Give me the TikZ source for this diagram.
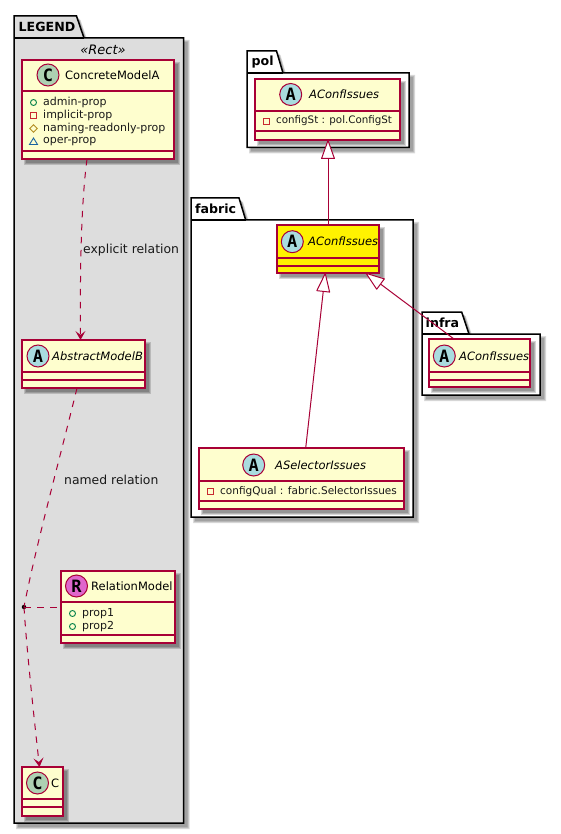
\documentclass[tikz,border=0pt]{standalone}
\usepackage{fontspec}
\setmainfont{DejaVu Sans}
\newfontfamily\spotfont{DejaVu Sans Mono}
\usetikzlibrary{arrows.meta,calc}
\definecolor{crim}{HTML}{A80036}
\definecolor{clsfill}{HTML}{FEFECE}
\definecolor{legfill}{HTML}{DDDDDD}
\definecolor{spotA}{HTML}{A9DCDF}
\definecolor{spotC}{HTML}{ADD1B2}
\definecolor{spotR}{HTML}{DF66CC}
\definecolor{icoPub}{HTML}{038048}
\definecolor{icoPri}{HTML}{C82930}
\definecolor{icoPro}{HTML}{B38D22}
\definecolor{icoPkg}{HTML}{1963A0}
\tikzset{
  kbox/.style={draw=crim,line width=1.25pt,inner sep=0pt,outer sep=0pt,rectangle},
  ksep/.style={draw=crim,line width=1.25pt},
  spot/.style={circle,draw=crim,line width=1pt,inner sep=0pt,minimum size=22pt,font=\spotfont\bfseries\fontsize{17}{17}\selectfont},
  ctitle/.style={inner sep=0pt,anchor=west,font=\fontsize{11.5}{13}\selectfont,text=black},
  ititle/.style={ctitle,font=\fontsize{11.5}{13}\selectfont\itshape},
  member/.style={inner sep=0pt,anchor=west,font=\fontsize{10.5}{12}\selectfont,text=black!90},
  hmember/.style={member,font=\fontsize{11}{12}\selectfont},
  rellabel/.style={inner sep=0pt,anchor=west,font=\fontsize{12.4}{14}\selectfont,text=black!90},
  pkgtitle/.style={inner sep=0pt,anchor=west,font=\bfseries\fontsize{12.6}{14}\selectfont},
  pkgline/.style={draw=black,line width=1.5pt,line join=miter},
  rel/.style={crim,line width=1pt},
  dashrel/.style={rel,dash pattern=on 6.5pt off 6.5pt},
  open vee/.style={-{Stealth[length=9pt,width=10pt,inset=4pt,fill=crim,sep=0pt]}},
  hollow/.style={-{Triangle[open,length=20pt,width=14pt,fill=white,round]}},
}
% #1 name, #2-#5 x1 y1 x2 y2, #6 sep1, #7 sep2, #8 fill
\newcommand{\klass}[8]{%
  \foreach \d in {0,1,2}{%
    \fill[black,opacity=.16] ({#2+2+\d},{#3+2+\d}) rectangle ({#4+6-\d},{#5+6-\d});}
  \node[kbox,fill=#8,minimum width={(#4-#2)*1pt},minimum height={(#5-#3)*1pt}] (#1) at ({(#2+#4)/2},{(#3+#5)/2}) {};
  \draw[ksep] (#2,#6) -- (#4,#6);
  \draw[ksep] (#2,#7) -- (#4,#7);
}
% #1 xl, #2 ytop, #3 tab-right top, #4 tab-right bottom, #5 ytabbottom, #6 xr, #7 ybottom, #8 fill
\newcommand{\packg}[8]{%
  \foreach \d in {0,1,2}{%
    \fill[black,opacity=.14] ({#1+2+\d},{#2+2+\d}) -- ({#3+2+\d},{#2+2+\d}) -- ({#4+2+\d},{#5+2+\d}) -- ({#6+6-\d},{#5+2+\d}) -- ({#6+6-\d},{#7+6-\d}) -- ({#1+2+\d},{#7+6-\d}) -- cycle;}
  \draw[pkgline,fill=#8] (#1,#2) -- (#3,#2) -- (#4,#5) -- (#6,#5) -- (#6,#7) -- (#1,#7) -- cycle;
  \draw[pkgline] (#1,#5) -- (#4,#5);
}
\newcommand{\icoPub}[2]{\draw[icoPub,line width=.9pt] (#1,#2) circle (3pt);}
\newcommand{\icoPri}[2]{\draw[icoPri,line width=.9pt] ({#1-3},{#2-3}) rectangle ({#1+3},{#2+3});}
\newcommand{\icoPro}[2]{\draw[icoPro,line width=.9pt] ({#1-3.8},#2) -- (#1,{#2-3.8}) -- ({#1+3.8},#2) -- (#1,{#2+3.8}) -- cycle;}
\newcommand{\icoPkg}[2]{\draw[icoPkg,line width=.9pt] ({#1-4},{#2+3}) -- ({#1+4},{#2+3}) -- (#1,{#2-3.5}) -- cycle;}
\begin{document}
\begin{tikzpicture}[x=1pt,y=-1pt]
\useasboundingbox (0,0) rectangle (560,834);
\fill[white] (0,0) rectangle (560,834);
% packages
\packg{14}{16}{76.5}{84}{38}{183.5}{823}{legfill}
\node[pkgtitle] (legendT) at (18.5,27) {LEGEND};
\node[inner sep=0pt,font=\itshape\fontsize{13}{15}\selectfont] (rectT) at (103,49.5) {«Rect»};
\packg{247}{51}{276.5}{283}{73}{409}{147.5}{white}
\node[pkgtitle] (polT) at (251.5,62) {pol};
\packg{191}{198}{239}{245.7}{220}{413}{517}{white}
\node[pkgtitle] (fabT) at (195,209) {fabric};
\packg{422}{312}{461.7}{469}{334}{540}{395}{white}
\node[pkgtitle] (infT) at (425.5,323) {infra};
% classes
\klass{cma}{22}{60}{174}{159}{91}{151}{clsfill}
\node[spot,fill=spotC] (cmaS) at (48,75) {C};
\node[ctitle] (cmaT) at (65,75.5) {ConcreteModelA};
\icoPub{33.5}{102.5}\icoPri{33.5}{115.5}\icoPro{33.5}{128.5}\icoPkg{33.5}{141.5}
\node[hmember] (m1) at (43,102.5) {admin-prop};
\node[hmember] (m2) at (43,115.5) {implicit-prop};
\node[hmember] (m3) at (43,128.5) {naming-readonly-prop};
\node[hmember] (m4) at (43,141.5) {oper-prop};
\klass{amb}{22}{340}{145}{388}{372}{380}{clsfill}
\node[spot,fill=spotA] (ambS) at (38,356) {A};
\node[ititle] (ambT) at (52,356) {AbstractModelB};
\klass{rm}{61}{571}{175}{643}{602}{635}{clsfill}
\node[spot,fill=spotR] (rmS) at (76.5,586) {R};
\node[ctitle] (rmT) at (91,586.5) {RelationModel};
\icoPub{72.5}{613.5}\icoPub{72.5}{626.5}
\node[hmember] (r1) at (82,613.5) {prop1};
\node[hmember] (r2) at (82,626.5) {prop2};
\klass{cc}{22}{767}{63}{816}{799}{807}{clsfill}
\node[spot,fill=spotC] (ccS) at (37.5,783) {C};
\node[ctitle] (ccT) at (51,783.5) {C};
\klass{pa}{255}{79}{400}{140}{111}{131}{clsfill}
\node[spot,fill=spotA] (paS) at (290.7,94.5) {A};
\node[ititle] (paT) at (309,94.5) {AConfIssues};
\icoPri{266.5}{121.5}
\node[member,font=\fontsize{10.3}{12}\selectfont] (pm) at (276,121) {configSt : pol.ConfigSt};
\klass{fa}{277}{225}{379}{273}{258}{266}{yellow}
\node[spot,fill=spotA] (faS) at (292.3,241.7) {A};
\node[ititle] (faT) at (308,241.7) {AConfIssues};
\klass{as}{199}{448}{404}{509}{481}{501}{clsfill}
\node[spot,fill=spotA] (asS) at (253.7,465) {A};
\node[ititle] (asT) at (275,465) {ASelectorIssues};
\icoPri{210}{491.5}
\node[member] (am) at (220,491.3) {configQual : fabric.SelectorIssues};
\klass{ia}{429}{339}{530}{387}{372}{380}{clsfill}
\node[spot,fill=spotA] (iaS) at (444.3,356) {A};
\node[ititle] (iaT) at (459,356) {AConfIssues};
% connectors
\coordinate (cmaB) at (87,159);
\coordinate (ambTop) at (80.5,340);
\coordinate (ambB) at (77,388);
\coordinate (ccTop) at (39.5,767);
\node[circle,fill=black,inner sep=0pt,minimum size=4.5pt] (dot) at (24,607) {};
\draw[dashrel,open vee] (cmaB) .. controls (81,205) and (80,270) .. (ambTop);
\draw[dashrel] (ambB) .. controls (62,450) and (36,545) .. (dot.center);
\draw[dashrel,open vee] (dot.center) .. controls (26,640) and (32,700) .. (ccTop);
\draw[dashrel] (dot.center) -- (dot.center -| rm.west);
\node[rellabel] (lab1) at (83,250) {explicit relation};
\node[rellabel] (lab2) at (64,480) {named relation};
\coordinate (paB) at (328,140);
\coordinate (faT2) at (328,225);
\coordinate (faB1) at (325.3,273);
\coordinate (asTop) at (305.7,448);
\coordinate (faB2) at (365.7,273);
\coordinate (iaTop) at (454,339);
\draw[rel,hollow] (faT2) -- (paB);
\draw[rel,hollow] (asTop) -- (faB1);
\draw[rel,hollow] (iaTop) -- (faB2);
\end{tikzpicture}
\end{document}
